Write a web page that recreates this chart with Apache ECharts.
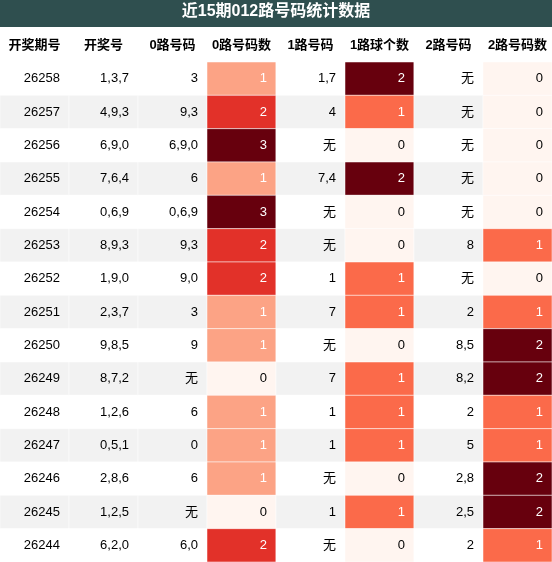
<!DOCTYPE html><html><head><meta charset="utf-8"><script src="https://cdn.jsdelivr.net/npm/echarts@6/dist/echarts.min.js"></script>
<style>html,body{margin:0;padding:0;background:#fff}#c{width:552px;height:562px}</style></head><body><div id="c"></div><script>
var headers=['开奖期号','开奖号','0路号码','0路号码数','1路号码','1路球个数','2路号码','2路号码数'];
var issues=['26258','26257','26256','26255','26254','26253','26252','26251','26250','26249','26248','26247','26246','26245','26244'];
var nums=['1,3,7','4,9,3','6,9,0','7,6,4','0,6,9','8,9,3','1,9,0','2,3,7','9,8,5','8,7,2','1,2,6','0,5,1','2,8,6','1,2,5','6,2,0'];
var r0=['3','9,3','6,9,0','6','0,6,9','9,3','9,0','3','9','无','6','0','6','无','6,0'];
var c0=[1,2,3,1,3,2,2,1,1,0,1,1,1,0,2];
var r1=['1,7','4','无','7,4','无','无','1','7','无','7','1','1','无','1','无'];
var c1=[2,1,0,2,0,0,1,1,0,1,1,1,0,1,0];
var r2=['无','无','无','无','无','8','无','2','8,5','8,2','2','5','2,8','2,5','2'];
var c2=[0,0,0,0,0,1,0,1,2,2,1,1,2,2,1];
var stops=[[0,[255,245,240]],[0.33,[252,164,134]],[0.5,[251,106,74]],[0.67,[225,48,40]],[1,[103,0,13]]];
function heat(t){for(var i=1;i<stops.length;i++){if(t<=stops[i][0]){var a=stops[i-1],b=stops[i],f=(t-a[0])/(b[0]-a[0]);return 'rgb('+a[1].map(function(v,k){return Math.round(v+(b[1][k]-v)*f)}).join(',')+')';}}return 'rgb(103,0,13)';}
var cols=[issues,nums,r0,c0,r1,c1,r2,c2];
var heatCols={3:3,5:2,7:2};
var FONT='"Liberation Sans","Noto Sans CJK SC"';
var data=[];
cols.forEach(function(col,ci){col.forEach(function(v,ri){data.push([ci,ri,String(v),heatCols[ci]?v:-1]);});});
var chart=echarts.init(document.getElementById('c'));
chart.setOption({
 animation:false,
 graphic:[{type:'rect',left:0,top:0,shape:{width:552,height:27},style:{fill:'#2f4f4f'}},
   {type:'text',left:'center',top:4,style:{text:'近15期012路号码统计数据',fill:'#fff',font:'bold 16px '+FONT}}],
 grid:{left:0,right:0,top:62,bottom:0},
 xAxis:{type:'category',position:'top',data:headers,axisLine:{show:false},axisTick:{show:false},
   axisLabel:{interval:0,margin:10,fontWeight:'bold',fontSize:13,color:'#000',fontFamily:'Liberation Sans, Noto Sans CJK SC'}},
 yAxis:{type:'category',data:issues,inverse:true,show:false},
 series:[{type:'custom',data:data,encode:{x:0,y:1},renderItem:function(p,api){
   var ci=api.value(0),ri=api.value(1),d=data[p.dataIndex];
   var c=api.coord([ci,ri]),s=api.size([1,1]);
   var fill=ri%2?'#f2f2f2':'#ffffff',tc='#000';
   if(d[3]>=0){fill=heat(d[3]/heatCols[ci]);if(d[3]>0)tc='#fff';}
   return {type:'group',children:[
    {type:'rect',shape:{x:c[0]-s[0]/2,y:c[1]-s[1]/2,width:s[0],height:s[1]},style:{fill:fill,stroke:'#ffffff',lineWidth:0.5}},
    {type:'text',style:{x:c[0]+s[0]/2-9,y:c[1],text:d[2],align:'right',verticalAlign:'middle',fill:tc,font:'13px '+FONT}}]};
 }}]
});
</script></body></html>
